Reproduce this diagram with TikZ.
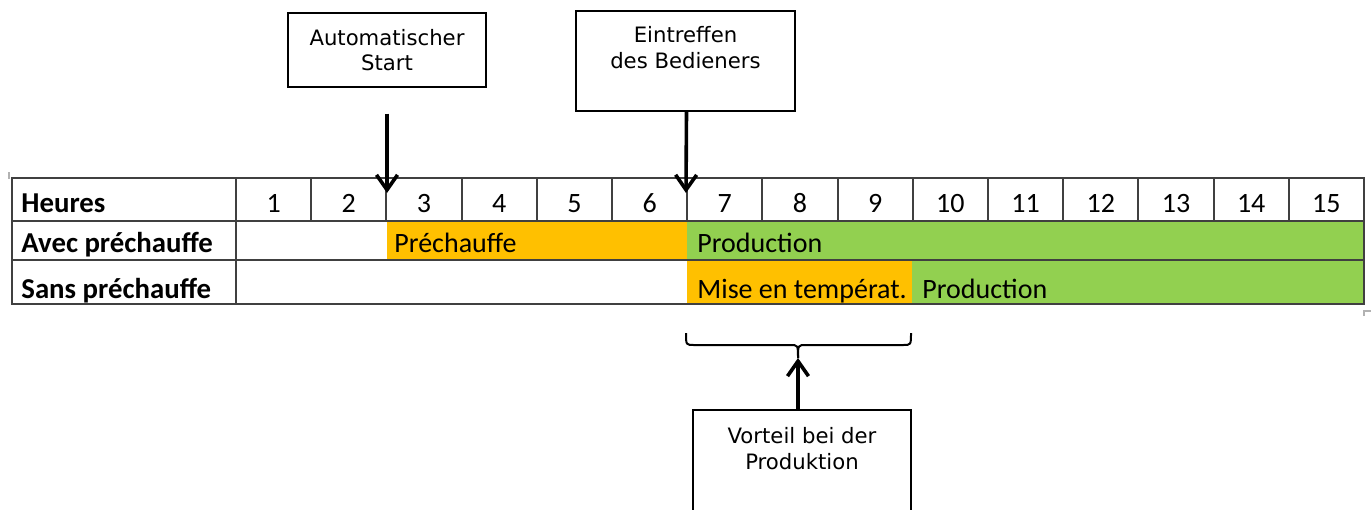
\documentclass[tikz,border=0pt]{standalone}
\usepackage{fontspec}
\setmainfont{DejaVu Sans}
\newfontfamily\tabfont{Carlito}
\usetikzlibrary{arrows.meta}

\definecolor{prechauffe}{HTML}{FFC000}
\definecolor{production}{HTML}{92D050}

\tikzset{
  box/.style={draw, line width=0.7pt},
  boxtext/.style={align=center, inner sep=0pt, font=\fontsize{10.6}{12.6}\selectfont},
  pointer/.style={line width=1.8pt, -{Straight Barb[length=7.5pt,width=10.5pt]}},
  accolade/.style={line width=1pt},
  grille/.style={draw=black!75, line width=1pt},
  cell/.style={inner sep=0pt, anchor=base, font=\tabfont\fontsize{14}{16}\selectfont},
  rowhead/.style={cell, anchor=base west, font=\tabfont\bfseries\fontsize{14.4}{16}\selectfont},
}

\begin{document}
\begin{tikzpicture}[x=0.5pt,y=-0.5pt]
         \useasboundingbox (0,0) rectangle (1371,509) ;
         % phases
         \fill[prechauffe] (387,222) rectangle (687,259) ;
         \fill[production] (687,222) rectangle (1364,259) ;
         \fill[prechauffe] (687,261) rectangle (912,303) ;
         \fill[production] (912,261) rectangle (1364,303) ;
         % table
         \draw[grille] (12,178) rectangle (1364,304) ;
         \draw[grille] (12,221) -- (1364,221) ;
         \draw[grille] (12,260) -- (1364,260) ;
         \draw[grille] (236,178) -- (236,304) ;
         \foreach \h in {1,...,14}
            \draw[grille] ({236+75.2*\h},178) -- ({236+75.2*\h},221) ;
         \foreach \h in {1,...,15}
            \node[cell] (h\h) at ({198.4+75.2*\h},212) {\h} ;
         \node[rowhead] (heures) at (21,212) {Heures} ;
         \node[rowhead] (avec) at (21,252) {Avec préchauffe} ;
         \node[rowhead] (sans) at (21,298) {Sans préchauffe} ;
         \node[cell, anchor=base west] (pre) at (394,252) {Préchauffe} ;
         \node[cell, anchor=base west] (prod1) at (697,252) {Production} ;
         \node[cell, anchor=base west] (mise) at (697,298) {Mise en températ.} ;
         \node[cell, anchor=base west] (prod2) at (922,298) {Production} ;
         % crop marks
         \draw[gray!60, line width=0.8pt] (9,172) -- (9,179) ;
         \draw[gray!60, line width=0.8pt] (1364,316) -- (1364,311) -- (1371,311) ;
         % boxes
         \node[box, minimum width=99pt, minimum height=37pt] (auto) at (387,50) {} ;
         \node[boxtext] (autotxt) at (auto) {Automatischer\\Start} ;
         \node[box, minimum width=109.5pt, minimum height=50pt] (bedien) at (685.5,61) {} ;
         \node[boxtext, anchor=north] (bedientxt) at ([yshift=-8pt]bedien.north) {Eintreffen\\des Bedieners} ;
         \node[box, minimum width=109pt, minimum height=60pt] (vorteil) at (802,470) {} ;
         \node[boxtext, anchor=north] (vorteiltxt) at ([yshift=-9pt]vorteil.north) {Vorteil bei der\\Produktion} ;
         % arrows
         \coordinate (start) at (387,193) ;
         \coordinate (arrivee) at (686,193) ;
         \coordinate (pointe) at (798,358) ;
         \draw[pointer] ([yshift=-13pt]auto.south) -- (start) ;
         \draw[pointer] ([xshift=0.5pt]bedien.south) -- (arrivee) ;
         \draw[pointer] ([xshift=-2pt]vorteil.north) -- (pointe) ;
         % brace
         \draw[accolade] (686,333) .. controls (686,345) .. (694,345) -- (790,345)
            .. controls (798,345) .. (pointe) ;
         \draw[accolade] (911,333) .. controls (911,345) .. (903,345) -- (806,345)
            .. controls (798,345) .. (pointe) ;
\end{tikzpicture}
\end{document}
